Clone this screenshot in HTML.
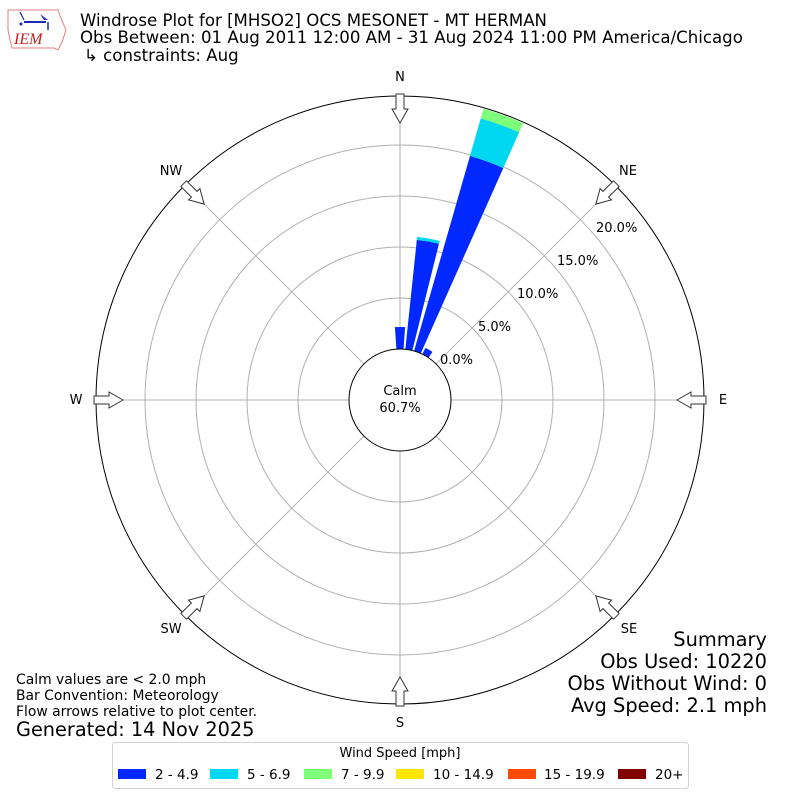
<!DOCTYPE html>
<html><head><meta charset="utf-8"><style>
body{margin:0;background:#fff;}
svg{display:block;font-family:"DejaVu Sans","Liberation Sans",sans-serif;}
</style></head><body>
<svg id="s" width="800" height="800" viewBox="0 0 800 800" xmlns="http://www.w3.org/2000/svg">
<rect width="800" height="800" fill="#fff"/>
<g>
<path d="M8 10 L58 10 L60 16 L66 30 L62 42 L58 50 L54 48 L12 48 L10 40 L8 30 Z" fill="none" stroke="#e08080" stroke-width="1"/>
<line x1="24" y1="22" x2="46" y2="22" stroke="#1a2ab8" stroke-width="2"/>
<path d="M20 12 L24 20" stroke="#1a2ab8" stroke-width="1.2"/>
<path d="M40 14 L48 20 L44 20 Z" fill="#1a2ab8"/>
<path d="M48 22 L48 30" stroke="#1a2ab8" stroke-width="1.5"/>
<circle cx="21" cy="24" r="1.5" fill="#1a2ab8"/>
<text x="14" y="44" font-family="Liberation Serif,serif" font-style="italic" font-size="16" fill="#c02020">IEM</text>
</g>
<g font-size="16.6">
<text x="80" y="26">Windrose Plot for [MHSO2] OCS MESONET - MT HERMAN</text>
<text x="80" y="43">Obs Between: 01 Aug 2011 12:00 AM - 31 Aug 2024 11:00 PM America/Chicago</text>
<text x="84" y="61">↳ constraints: Aug</text>
</g>
<g id="grid" fill="none" stroke="#b0b0b0" stroke-width="1">
<circle cx="400" cy="400" r="102"/><circle cx="400" cy="400" r="153"/><circle cx="400" cy="400" r="204"/><circle cx="400" cy="400" r="255"/>
</g>
<g id="bars"></g>
<circle cx="400" cy="400" r="51" fill="#fff" stroke="#000" stroke-width="1"/>
<circle cx="400" cy="400" r="304" fill="none" stroke="#000" stroke-width="1"/>
<g id="arrows"></g>
<g font-size="13" text-anchor="middle">
<text x="400" y="81">N</text><text x="628" y="175">NE</text><text x="723" y="404">E</text><text x="629" y="633">SE</text>
<text x="400" y="727">S</text><text x="171" y="633">SW</text><text x="76" y="404">W</text><text x="171" y="175">NW</text>
<text x="400" y="395">Calm</text><text x="400" y="412">60.7%</text>
</g>
<g font-size="13">
<text x="440" y="364">0.0%</text><text x="478" y="331">5.0%</text><text x="517" y="298">10.0%</text><text x="557" y="265">15.0%</text><text x="596" y="232">20.0%</text>
</g>
<g font-size="19.4" text-anchor="end">
<text x="767" y="646">Summary</text><text x="767" y="668">Obs Used: 10220</text><text x="767" y="690">Obs Without Wind: 0</text><text x="767" y="712">Avg Speed: 2.1 mph</text>
</g>
<g font-size="13.9">
<text x="16" y="684">Calm values are &lt; 2.0 mph</text><text x="16" y="700">Bar Convention: Meteorology</text><text x="16" y="716">Flow arrows relative to plot center.</text>
</g>
<text x="16" y="736" font-size="19.3">Generated: 14 Nov 2025</text>
<rect x="112.5" y="742.5" width="576" height="46" rx="3" fill="#fff" stroke="#d0d0d0"/>
<text x="400" y="757" font-size="13" text-anchor="middle">Wind Speed [mph]</text>
<g font-size="13.5">
<rect x="118" y="769" width="28" height="10" fill="#0028ff"/><text x="155" y="779">2 - 4.9</text>
<rect x="210" y="769" width="28" height="10" fill="#00d8f2"/><text x="247" y="779">5 - 6.9</text>
<rect x="304" y="769" width="28" height="10" fill="#7dff7a"/><text x="341" y="779">7 - 9.9</text>
<rect x="396" y="769" width="28" height="10" fill="#ffe600"/><text x="433" y="779">10 - 14.9</text>
<rect x="508" y="769" width="28" height="10" fill="#ff4a00"/><text x="544" y="779">15 - 19.9</text>
<rect x="618" y="769" width="28" height="10" fill="#800000"/><text x="655" y="779">20+</text>
</g>
</svg>
<script>
(function(){
var NS="http://www.w3.org/2000/svg",cx=400,cy=400;
function pt(r,a){a=a*Math.PI/180;return [cx+r*Math.sin(a),cy-r*Math.cos(a)];}
var gr=document.getElementById("grid");
for(var k=0;k<8;k++){var p=pt(51,k*45),q=pt(304,k*45);var l=document.createElementNS(NS,"line");
l.setAttribute("x1",p[0]);l.setAttribute("y1",p[1]);l.setAttribute("x2",q[0]);l.setAttribute("y2",q[1]);gr.appendChild(l);}
function wedge(r0,r1,a,c){var h=4,p1=pt(r0,a-h),p2=pt(r1,a-h),p3=pt(r1,a+h),p4=pt(r0,a+h);
var d="M"+p1+" L"+p2+" A"+r1+" "+r1+" 0 0 1 "+p3+" L"+p4+" A"+r0+" "+r0+" 0 0 0 "+p1+"Z";
var e=document.createElementNS(NS,"path");e.setAttribute("d",d.replace(/,/g," "));e.setAttribute("fill",c);document.getElementById("bars").appendChild(e);}
var B="#0028ff",C="#00d8f2",G="#7dff7a";
wedge(51,73,0,B);
wedge(51,161,10,B);wedge(161,164,10,C);
wedge(51,254,20,B);wedge(254,293,20,C);wedge(293,303,20,G);
wedge(51,58,30,B);
var g=document.getElementById("arrows");
for(var i=0;i<8;i++){var a=i*45;
var e=document.createElementNS(NS,"path");
e.setAttribute("d","M-4 -306 L4 -306 L4 -291 L8 -291 L0 -277 L-8 -291 L-4 -291 Z");
e.setAttribute("fill","#fff");e.setAttribute("stroke","#333");e.setAttribute("stroke-width","1");
e.setAttribute("transform","translate(400 400) rotate("+a+")");g.appendChild(e);}
})();
</script>
</body></html>
